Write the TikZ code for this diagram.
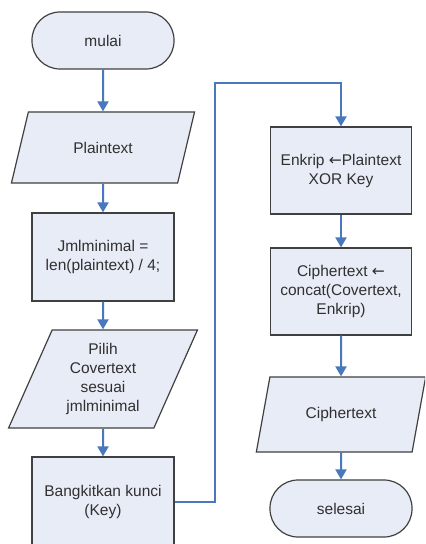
\documentclass[tikz,border=0pt]{standalone}
\usepackage{fontspec}
\setmainfont{Liberation Sans}
\newfontfamily\arrfont{DejaVu Sans}
\usetikzlibrary{shapes.geometric,arrows.meta}
\definecolor{boxfill}{HTML}{E8ECF6}
\definecolor{boxline}{HTML}{404040}
\definecolor{flowc}{HTML}{4A78BD}
\definecolor{txt}{HTML}{303030}
\newcommand{\larr}{{\arrfont ←}}
\begin{document}
\begin{tikzpicture}[x=1bp,y=-1bp,
 base/.style={draw=boxline, line width=1.2bp, fill=boxfill, text=txt,
   font=\fontsize{15.5bp}{19bp}\selectfont, align=center, inner sep=0pt},
 proc/.style={base, rectangle, minimum width=142bp},
 term/.style={base, rectangle, rounded corners=28bp, minimum width=142bp, minimum height=57bp},
 io/.style={base, trapezium, trapezium stretches=true},
 flow/.style={draw=flowc, line width=2bp, -{Triangle[width=11bp,length=10bp]}}]
\useasboundingbox (0,0) rectangle (425,544);
\fill[white] (0,0) rectangle (425,544);
\clip (0,0) rectangle (425,544);
% left column
\node[term] (mulai) at (103,40.5) {mulai};
\node[io, minimum width=184bp, minimum height=71bp,
  trapezium left angle=59.4, trapezium right angle=120.6] (plain) at (103,147.5) {Plaintext};
\node[proc, minimum height=88bp] (jml) at (103,257) {Jmlminimal =\\len(plaintext) / 4;};
\node[io, minimum width=189bp, minimum height=98bp,
  trapezium left angle=66.3, trapezium right angle=113.7] (pilih) at (103,379) {Pilih\\Covertext\\sesuai\\jmlminimal};
\node[proc, minimum height=90bp] (bang) at (103,502) {Bangkitkan kunci\\(Key)};
% right column
\node[proc, minimum width=141bp, minimum height=87bp] (enk) at (341,170.5) {Enkrip \larr Plaintext\\XOR Key};
\node[proc, minimum width=141bp, minimum height=87bp] (cip) at (341,291.5) {Ciphertext \larr\\concat(Covertext,\\Enkrip)};
\node[io, minimum width=170bp, minimum height=75bp,
  trapezium left angle=65, trapezium right angle=115] (cipio) at (341,414.5) {Ciphertext};
\node[term] (selesai) at (341,508.5) {selesai};
% connectors
\coordinate (k1) at (215,83);
\draw[flow] (mulai) -- (plain);
\draw[flow] (plain) -- (jml);
\draw[flow] (jml) -- (pilih);
\draw[flow] (pilih) -- (bang);
\draw[flow] (bang.east) -| (k1) -| (enk.north);
\draw[flow] (enk) -- (cip);
\draw[flow] (cip) -- (cipio);
\draw[flow] (cipio) -- (selesai);
\end{tikzpicture}
\end{document}
